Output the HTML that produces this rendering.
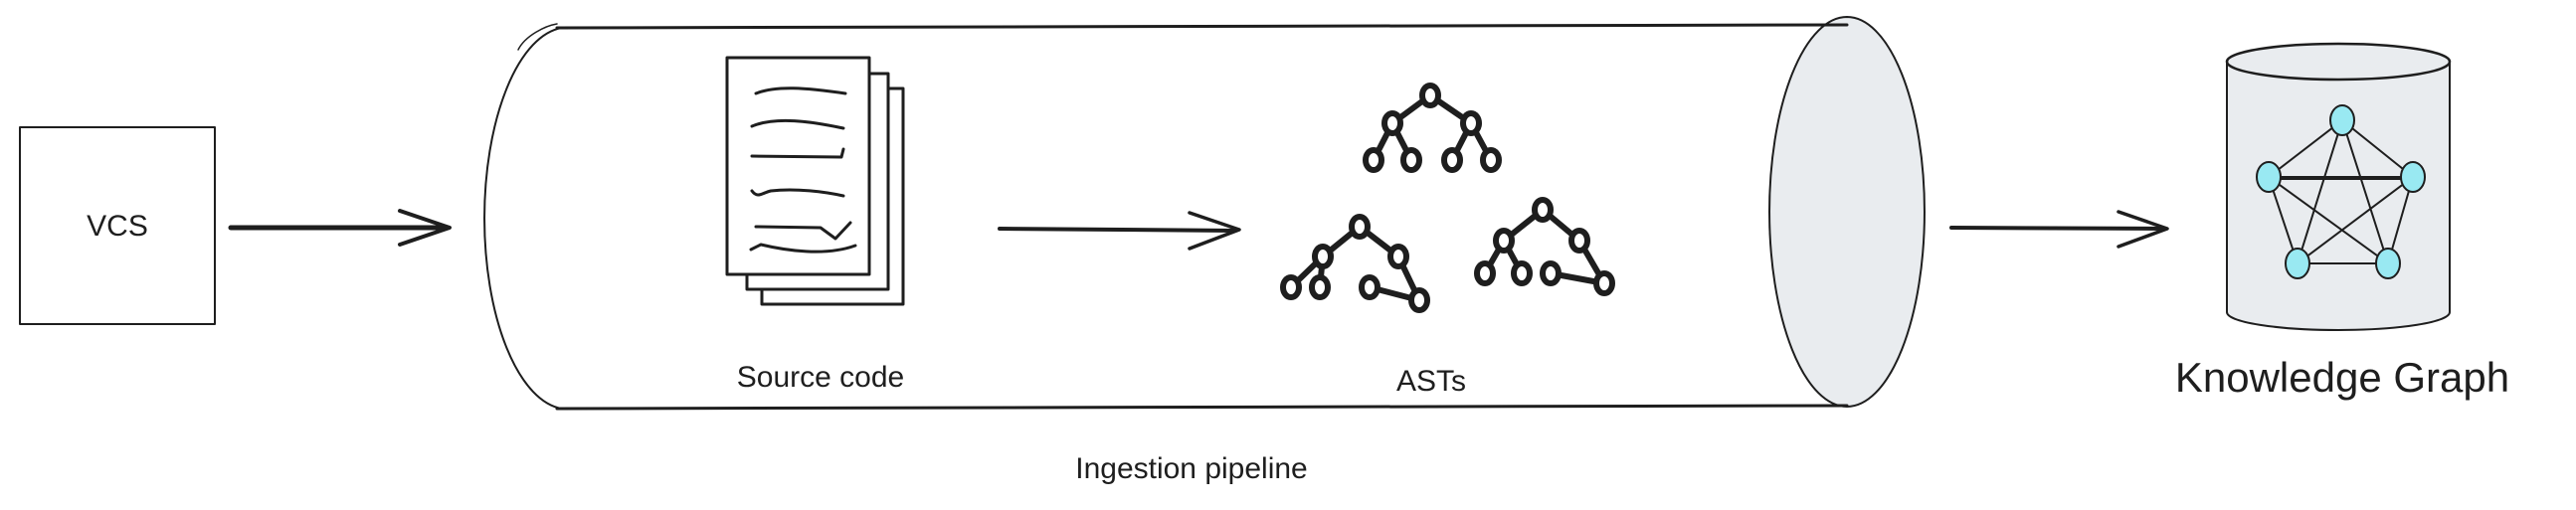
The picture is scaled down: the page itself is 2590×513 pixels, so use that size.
<!DOCTYPE html>
<html><head><meta charset="utf-8"><style>
html,body{margin:0;padding:0;background:#fff;}
svg{display:block}
text{font-family:"Liberation Sans",sans-serif;fill:#1e1e1e}
</style></head><body>
<svg width="2590" height="513" viewBox="0 0 2590 513" xmlns="http://www.w3.org/2000/svg">
<g fill="none" stroke="#1e1e1e" stroke-linecap="round" stroke-linejoin="round">
<rect x="20" y="128" width="196" height="198" stroke-width="2"/>
<path d="M232 229 L450 229" stroke-width="5"/>
<path d="M402 212 L452 229 L402 246" stroke-width="4"/>
<path d="M1857 17 A78 196 0 0 1 1857 409 A78 196 0 0 1 1857 17 Z" fill="#e9ecef" stroke-width="2"/>
<path d="M560 28 L1857 25" stroke-width="3"/>
<path d="M560 411 L1857 408" stroke-width="3"/>
<path d="M565 28 A84 192 0 0 0 565 411" stroke-width="2"/>
<path d="M560 24 C548 26 528 36 521 50" stroke-width="1.5"/>
<rect x="766" y="89" width="142" height="217" fill="#fff" stroke-width="3"/>
<rect x="751" y="74" width="142" height="217" fill="#fff" stroke-width="3"/>
<rect x="731" y="58" width="143" height="218" fill="#fff" stroke-width="3"/>
<g stroke-width="3">
<path d="M760 94 C780 86 810 88 850 94"/>
<path d="M756 127 C780 117 815 122 848 129"/>
<path d="M756 157 L846 158 L848 150"/>
<path d="M756 192 C762 200 766 194 775 192 C800 189 830 193 848 197"/>
<path d="M760 228 L825 229 L840 240 L855 224"/>
<path d="M755 251 L765 246 C790 252 830 258 860 247"/>
</g>
<path d="M1005 230 L1242 232" stroke-width="4"/>
<path d="M1196 214 L1246 231 L1196 250" stroke-width="3.5"/>
<g stroke-width="6">
<path d="M1438 96 L1400 124 L1381 161 M1400 124 L1419 161 M1438 96 L1479 124 L1460 161 M1479 124 L1499 161"/>
<path d="M1367 228 L1330 258 L1298 289 M1330 258 L1327 289 M1367 228 L1406 258 L1427 302 M1377 289 L1427 302"/>
<path d="M1551 211 L1512 242 L1493 275 M1512 242 L1530 275 M1551 211 L1588 242 L1613 285 M1559 275 L1613 285"/>
</g>
<g stroke-width="6" fill="#fff">
<ellipse cx="1438" cy="96" rx="8" ry="10"/><ellipse cx="1400" cy="124" rx="8" ry="10"/><ellipse cx="1479" cy="124" rx="8" ry="10"/>
<ellipse cx="1381" cy="161" rx="8" ry="10"/><ellipse cx="1419" cy="161" rx="8" ry="10"/><ellipse cx="1460" cy="161" rx="8" ry="10"/><ellipse cx="1499" cy="161" rx="8" ry="10"/>
<ellipse cx="1367" cy="228" rx="8" ry="10"/><ellipse cx="1330" cy="258" rx="8" ry="10"/><ellipse cx="1406" cy="258" rx="8" ry="10"/>
<ellipse cx="1298" cy="289" rx="8" ry="10"/><ellipse cx="1327" cy="289" rx="8" ry="10"/><ellipse cx="1377" cy="289" rx="8" ry="10"/><ellipse cx="1427" cy="302" rx="8" ry="10"/>
<ellipse cx="1551" cy="211" rx="8" ry="10"/><ellipse cx="1512" cy="242" rx="8" ry="10"/><ellipse cx="1588" cy="242" rx="8" ry="10"/>
<ellipse cx="1493" cy="275" rx="8" ry="10"/><ellipse cx="1530" cy="275" rx="8" ry="10"/><ellipse cx="1559" cy="275" rx="8" ry="10"/><ellipse cx="1613" cy="285" rx="8" ry="10"/>
</g>
<path d="M1962 229 L2177 230" stroke-width="4"/>
<path d="M2130 213 L2179 230 L2130 248" stroke-width="3.5"/>
<path d="M2239 62 L2239 314 A112 18 0 0 0 2463 314 L2463 62" fill="#e9ecef" stroke-width="2"/>
<ellipse cx="2351" cy="62" rx="112" ry="18" fill="#e9ecef" stroke-width="2.5"/>
<g stroke-width="2">
<path d="M2355 121 L2281 178 M2355 121 L2426 178 M2281 178 L2426 178 M2281 180 L2426 180 M2355 121 L2310 265 M2355 121 L2401 265 M2281 178 L2310 265 M2426 178 L2401 265 M2281 178 L2401 265 M2426 178 L2310 265 M2310 265 L2401 265"/>
</g>
<g fill="#99e9f2" stroke-width="2">
<ellipse cx="2355" cy="121" rx="12" ry="15"/><ellipse cx="2281" cy="178" rx="12" ry="15"/><ellipse cx="2426" cy="178" rx="12" ry="15"/>
<ellipse cx="2310" cy="265" rx="12" ry="15"/><ellipse cx="2401" cy="265" rx="12" ry="15"/>
</g>
</g>
<text x="118" y="237" font-size="30" text-anchor="middle">VCS</text>
<text x="825" y="389" font-size="30" text-anchor="middle">Source code</text>
<text x="1439" y="393" font-size="30" text-anchor="middle">ASTs</text>
<text x="1198" y="481" font-size="30" text-anchor="middle">Ingestion pipeline</text>
<text x="2355" y="394" font-size="42" text-anchor="middle">Knowledge Graph</text>
</svg>
</body></html>
